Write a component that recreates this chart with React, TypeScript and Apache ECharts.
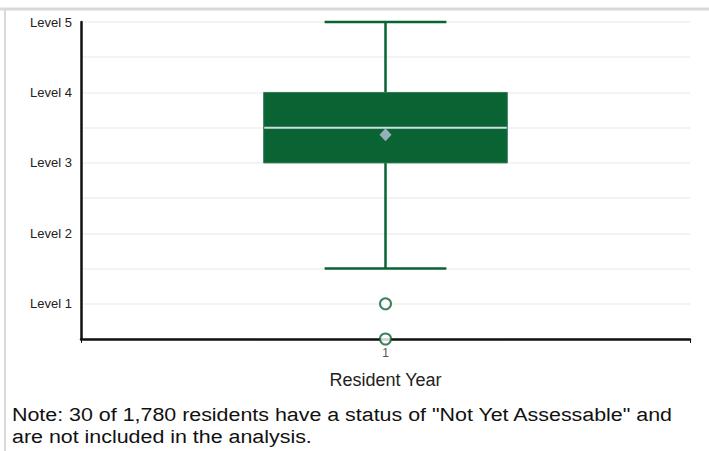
import React, { useEffect, useRef } from "react";
import * as echarts from "echarts";

const categories = ["1"];
// [categoryIndex, min, q1, median, q3, max]
const boxStats = [[0, 1.5, 3, 3.5, 4, 5]];
const means = [[0, 3.4]];
const outliers = [[0, 1], [0, 0.5]];
const yMin = 0.5;
const yMax = 5;
const yInterval = 0.5;
const levelPrefix = "Level ";
const xAxisTitle = "Resident Year";
const noteLines = [
  'Note: 30 of 1,780 residents have a status of "Not Yet Assessable" and',
  "are not included in the analysis.",
];

const GREEN = "#0a6332";
const FONT = "'Liberation Sans', Arial, sans-serif";

export default function App() {
  const ref = useRef<HTMLDivElement>(null);
  useEffect(() => {
    if (!ref.current) return;
    const chart = echarts.init(ref.current, null, { renderer: "svg" });
    chart.setOption({
      animation: false,
      backgroundColor: "#ffffff",
      grid: { left: 81, right: 19, top: 22, bottom: 112, containLabel: false },
      xAxis: {
        type: "category",
        data: categories,
        boundaryGap: true,
        name: xAxisTitle,
        nameLocation: "middle",
        nameGap: 32,
        nameTextStyle: { fontFamily: FONT, fontSize: 18, color: "#222" },
        axisLine: { lineStyle: { color: "#111", width: 2.5 } },
        axisTick: { show: true, length: 4, lineStyle: { color: "#111", width: 1 } },
        axisLabel: { fontFamily: FONT, fontSize: 12, color: "#555", margin: 8 },
        splitLine: { show: false },
      },
      yAxis: {
        type: "value",
        min: yMin,
        max: yMax,
        interval: yInterval,
        axisLine: { show: true, lineStyle: { color: "#111", width: 2.5 } },
        axisTick: { show: false },
        axisLabel: {
          fontFamily: FONT,
          fontSize: 13,
          color: "#222",
          margin: 9,
          formatter: (v: number) => (Number.isInteger(v) ? levelPrefix + v : ""),
        },
        splitLine: { show: true, lineStyle: { color: "#efefef", width: 1.5 } },
      },
      series: [
        {
          type: "custom",
          data: boxStats,
          encode: { x: 0, y: [1, 2, 3, 4, 5] },
          clip: false,
          renderItem: (params: any, api: any) => {
            const x = api.value(0);
            const pMin = api.coord([x, api.value(1)]);
            const pQ1 = api.coord([x, api.value(2)]);
            const pMed = api.coord([x, api.value(3)]);
            const pQ3 = api.coord([x, api.value(4)]);
            const pMax = api.coord([x, api.value(5)]);
            const band = api.size([1, 0])[0];
            const bw = band * 0.4;
            const cw = bw / 2;
            const cx = pMed[0];
            const lineStyle = { stroke: GREEN, lineWidth: 2.5 };
            return {
              type: "group",
              children: [
                { type: "line", shape: { x1: cx, y1: pMax[1], x2: cx, y2: pQ3[1] }, style: lineStyle },
                { type: "line", shape: { x1: cx, y1: pQ1[1], x2: cx, y2: pMin[1] }, style: lineStyle },
                { type: "line", shape: { x1: cx - cw / 2, y1: pMax[1], x2: cx + cw / 2, y2: pMax[1] }, style: lineStyle },
                { type: "line", shape: { x1: cx - cw / 2, y1: pMin[1], x2: cx + cw / 2, y2: pMin[1] }, style: lineStyle },
                {
                  type: "rect",
                  shape: { x: cx - bw / 2, y: pQ3[1], width: bw, height: pQ1[1] - pQ3[1] },
                  style: { fill: GREEN, stroke: "#2f7a52", lineWidth: 1 },
                },
                {
                  type: "line",
                  shape: { x1: cx - bw / 2 + 0.5, y1: pMed[1], x2: cx + bw / 2 - 0.5, y2: pMed[1] },
                  style: { stroke: "#d2dae4", lineWidth: 2 },
                },
              ],
            };
          },
          z: 3,
        },
        {
          type: "scatter",
          data: means,
          symbol: "diamond",
          symbolSize: [12, 13],
          itemStyle: { color: "#b4c4e0" },
          clip: false,
          z: 5,
        },
        {
          type: "scatter",
          data: outliers,
          symbol: "emptyCircle",
          symbolSize: 11,
          itemStyle: { color: GREEN, borderColor: GREEN, borderWidth: 2.5 },
          clip: false,
          z: 5,
        },
      ],
      graphic: [
        {
          type: "line",
          shape: { x1: 0, y1: 9, x2: 709, y2: 9 },
          style: { stroke: "#d9d9d9", lineWidth: 3 },
          silent: true,
        },
        {
          type: "line",
          shape: { x1: 5, y1: 9, x2: 5, y2: 451 },
          style: { stroke: "#d9d9d9", lineWidth: 2 },
          silent: true,
        },
        {
          type: "text",
          x: 12,
          y: 404,
          scaleX: 1.19,
          style: {
            text: noteLines.join("\n"),
            font: `18px ${FONT}`,
            fill: "#111",
            lineHeight: 22,
          },
        },
      ],
    });
    return () => chart.dispose();
  }, []);
  return (
    <div
      ref={ref}
      style={{ position: "fixed", left: 0, top: 0, width: 709, height: 451 }}
    />
  );
}
